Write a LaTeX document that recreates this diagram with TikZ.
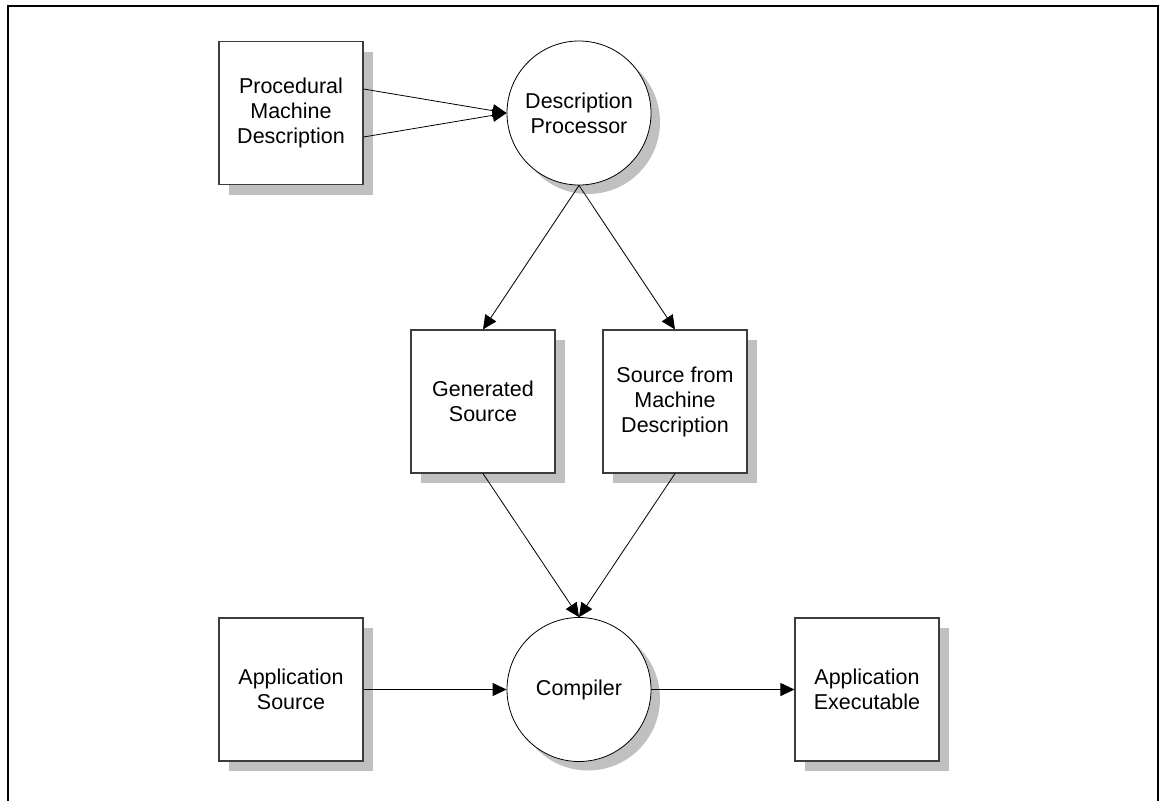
\documentclass[tikz,border=0pt]{standalone}
\usepackage{fontspec}
\setmainfont{Liberation Sans}
\usetikzlibrary{shapes,shadows,calc}
\usetikzlibrary{arrows.meta}
\usetikzlibrary{positioning}
\definecolor{shadowGray}{RGB}{192,192,192}
\definecolor{edgeGray}{RGB}{60,60,60}
\tikzset{
    dataBox/.style={
    ,   rectangle
    ,   minimum width=144pt
    ,   minimum height=143pt
    ,   draw=edgeGray
    ,   line width=1.1pt
    ,   fill=white
    ,   align=center
    ,   general shadow={shadow xshift=10pt, shadow yshift=-10pt, fill=shadowGray}
    },
    procCircle/.style={
    ,   circle
    ,   minimum size=144pt
    ,   inner sep=0pt
    ,   draw=black
    ,   line width=0.8pt
    ,   fill=white
    ,   align=center
    ,   general shadow={shadow xshift=9pt, shadow yshift=-9pt, fill=shadowGray}
    },
    flow/.style={
    ,   draw=black
    ,   line width=0.8pt
    ,   -{Triangle[length=14pt,width=13pt]}
    }
}
\begin{document}
\begin{tikzpicture}[x=1pt, y=-1pt, font={\fontsize{21.5}{25}\selectfont}]
			\useasboundingbox (0,0) rectangle (1160,801);
			\draw[line width=2.5pt] (8,801) -- (8,6) -- (1158,6) -- (1158,801); % frame, open at the bottom
			
			\node[dataBox] (proc) at (291,113) {Procedural\\Machine\\Description};
			\node[procCircle] (descp) at (579,113) {Description\\Processor};
			
			\node[dataBox] (gen) at (483,401.5) {Generated\\Source};
			\node[dataBox] (smd) at (675,401.5) {Source from\\Machine\\Description};
			
			\node[dataBox] (appsrc) at (291,689.5) {Application\\Source};
			\node[procCircle] (comp) at (579,689.5) {Compiler};
			\node[dataBox] (appexe) at (867,689.5) {Application\\Executable};
			
			\draw[flow] ([yshift=24pt]proc.east) -- (descp.west);
			\draw[flow] ([yshift=-24pt]proc.east) -- (descp.west);
			
			\draw[flow] (descp.south) -- (gen.north);
			\draw[flow] (descp.south) -- (smd.north);
			
			\draw[flow] (gen.south) -- (comp.north);
			\draw[flow] (smd.south) -- (comp.north);
			
			\draw[flow] (appsrc.east) -- (comp.west);
			\draw[flow] (comp.east) -- (appexe.west);
\end{tikzpicture}
\end{document}
